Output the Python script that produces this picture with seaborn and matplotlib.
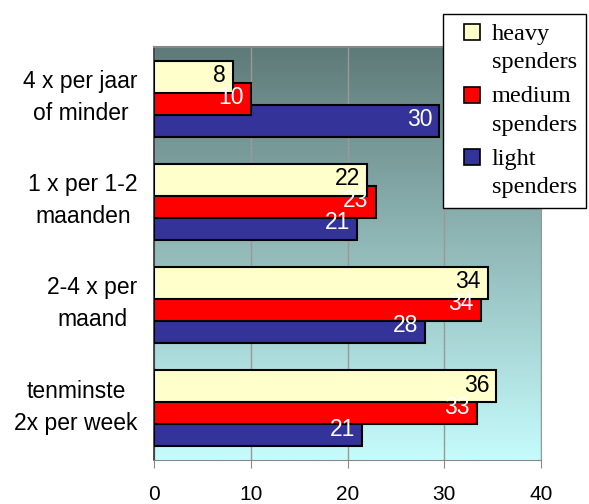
import numpy as np
import pandas as pd
import matplotlib.pyplot as plt
import matplotlib.transforms as mtransforms
import seaborn as sns
from matplotlib.colors import LinearSegmentedColormap
from matplotlib.lines import Line2D

# data
categories = ['4 x per jaar\nof minder', '1 x per 1-2\nmaanden', '2-4 x per\nmaand', 'tenminste\n2x per week']
groups = ['heavy\nspenders', 'medium\nspenders', 'light\nspenders']
heavy = [8.1, 22.05, 34.5, 35.4]
medium = [10.0, 22.9, 33.8, 33.4]
light = [29.5, 21.0, 28.0, 21.5]
heavy_labels = [8, 22, 34, 36]
medium_labels = [10, 23, 34, 33]
light_labels = [30, 21, 28, 21]
colors = ['#FFFFCC', '#FF0000', '#333399']

df = pd.DataFrame({
    'cat': categories * 3,
    'group': [g for g in groups for _ in categories],
    'value': heavy + medium + light,
})

plt.rcParams['font.family'] = ['Liberation Sans', 'DejaVu Sans']

fig = plt.figure(figsize=(5.89, 5.04), dpi=100)
ax = fig.add_axes([0.262, 0.0873, 0.656, 0.819])

# gradient background of the plot area
grad = np.linspace(0, 1, 256).reshape(-1, 1)
cmap = LinearSegmentedColormap.from_list('bg', ['#5E7A78', '#C6FCFC'])
ax.imshow(grad, cmap=cmap, aspect='auto', extent=[0, 1, 0, 1],
          transform=ax.transAxes, zorder=0)

sns.barplot(data=df, x='value', y='cat', hue='group', hue_order=groups,
            order=categories, orient='h', palette=colors, saturation=1, width=0.64,
            edgecolor='black', linewidth=1.5, errorbar=None, legend=False, ax=ax)

# overlapping bars like the excel chart
label_sets = [heavy_labels, medium_labels, light_labels]
text_colors = ['black', 'white', 'white']
for i, cont in enumerate(ax.containers):
    for p in cont.patches:
        yc = p.get_y() + p.get_height() / 2
        p.set_height(0.31)
        p.set_y(yc - 0.155)
        p.set_zorder(5 - i)
        k = int(round(yc))
        ax.annotate(str(label_sets[i][k]), xy=(p.get_width(), yc), xytext=(-5, 1),
                    textcoords='offset points', ha='right', va='center',
                    fontsize=16.5, color=text_colors[i], zorder=10)

ax.set_xlim(0, 40)
ax.set_ylim(3.5, -0.5)
ax.set_xticks([0, 10, 20, 30, 40])
ax.set_xlabel('')
ax.set_ylabel('')
ax.grid(axis='x', color='#999999', lw=1)
ax.set_axisbelow(True)

ax.spines['left'].set_color('#333333')
ax.spines['left'].set_linewidth(1.2)
ax.spines['bottom'].set_color('#888888')
ax.spines['top'].set_color('#888888')
ax.spines['top'].set_linewidth(1.5)
ax.spines['right'].set_color('#999999')

ax.tick_params(axis='x', direction='out', length=6, color='#888888', labelsize=15, pad=12)
ax.tick_params(axis='y', length=0, labelsize=16.5, pad=12)
shift_up = mtransforms.ScaledTranslation(0, 6 / 72, fig.dpi_scale_trans)
for t in ax.get_yticklabels():
    t.set_multialignment('center')
    t.set_linespacing(1.5)
    t.set_transform(t.get_transform() + shift_up)

handles = [Line2D([], [], marker='s', ls='none', markersize=11, markerfacecolor=c,
                  markeredgecolor='black', markeredgewidth=1.2) for c in colors]
leg = fig.legend(handles, groups, loc='upper left', bbox_to_anchor=(0.752, 0.972),
                 prop={'family': 'Liberation Serif', 'size': 17.5}, frameon=True,
                 fancybox=False, edgecolor='black', framealpha=1, borderpad=0.4,
                 handlelength=1.6, handletextpad=0.0, labelspacing=0.55, borderaxespad=0)
leg.get_frame().set_linewidth(1)
for t in leg.get_texts():
    t.set_linespacing(1.45)
for col in leg._legend_handle_box.get_children():
    for row in col.get_children():
        row.align = 'top'

fig.savefig('out.png', dpi=100)
